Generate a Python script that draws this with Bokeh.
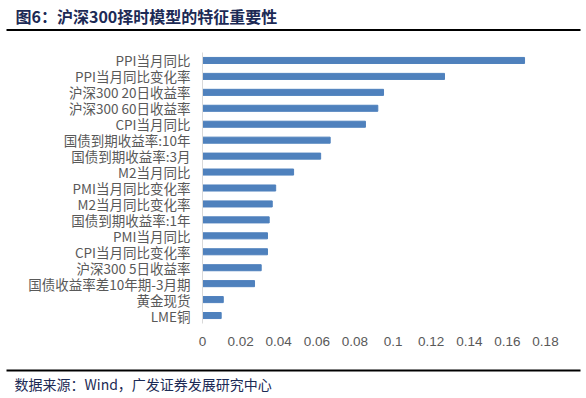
from bokeh.plotting import figure
from bokeh.models import Range1d
from bokeh.core.properties import value
from bokeh.embed import file_html
from bokeh.resources import INLINE

categories = ["PPI当月同比", "PPI当月同比变化率", "沪深300 20日收益率", "沪深300 60日收益率",
              "CPI当月同比", "国债到期收益率:10年", "国债到期收益率:3月", "M2当月同比",
              "PMI当月同比变化率", "M2当月同比变化率", "国债到期收益率:1年", "PMI当月同比",
              "CPI当月同比变化率", "沪深300 5日收益率", "国债收益率差10年期-3月期", "黄金现货", "LME铜"]
importance = [0.169, 0.127, 0.095, 0.092, 0.0855, 0.067, 0.062, 0.0478,
              0.0384, 0.0366, 0.035, 0.0341, 0.0341, 0.0308, 0.0273, 0.0109, 0.0098]
x_ticks = [0, 0.02, 0.04, 0.06, 0.08, 0.1, 0.12, 0.14, 0.16, 0.18]
x_tick_labels = [f"{t:g}" for t in x_ticks]

title_text = "图6：沪深300择时模型的特征重要性"
source_text = "数据来源：Wind，广发证券发展研究中心"

# ---- layout (canvas pixels) ----
W, H = 586, 398
FL, FR, FT, FB = 202, 545, 52, 323   # plotting area edges
X_MAX = 0.18
NAVY = "#1C2A55"
GREY = "#595959"

n = len(categories)
PX = (FR - FL) / X_MAX          # pixels per unit on x
PITCH = (FB - FT) / n           # pixels per category
ypos = [n - 1 - i for i in range(n)]   # first category at top

x_range = Range1d(-FL / PX, X_MAX + (W - FR) / PX)
y_range = Range1d(-0.5 - (H - FB) / PITCH, n - 0.5 + FT / PITCH)


def dx(px):  # canvas x -> data x
    return x_range.start + px / PX


def dy(py):  # canvas y (from top) -> data y
    return y_range.end - py / PITCH


p = figure(width=W, height=H, output_backend="svg", toolbar_location=None, title=None,
           x_range=x_range, y_range=y_range, x_axis_type=None, y_axis_type=None,
           min_border=0, min_border_left=0, min_border_right=0,
           min_border_top=0, min_border_bottom=0)
p.outline_line_color = None
p.grid.visible = False
p.background_fill_color = "white"
p.border_fill_color = "white"

# bars
p.hbar(y=ypos, right=importance, left=0, height=0.38, color="#4F81BD")

# value axis line (left) and category labels
p.segment(x0=[0], y0=[-0.5], x1=[0], y1=[n - 0.5], line_color="#D9D9D9", line_width=1)
p.text(x=[0] * n, y=ypos, text=categories, x_offset=-12,
       text_align="right", text_baseline="middle",
       text_font=value("Noto Sans CJK SC"), text_font_size="13.5px", text_color=GREY)

# x tick labels
p.text(x=x_ticks, y=[-0.5] * len(x_ticks), text=x_tick_labels, y_offset=18,
       text_align="center", text_baseline="middle",
       text_font=value("Liberation Sans"), text_font_size="13.5px", text_color=GREY)

# header: title and rule
p.text(x=[dx(15)], y=[dy(15)], text=[title_text], text_align="left", text_baseline="middle",
       text_font=value("Noto Sans CJK SC"), text_font_style="bold", text_font_size="16px",
       text_color=NAVY)
p.segment(x0=[dx(6)], y0=[dy(29.5)], x1=[dx(580)], y1=[dy(29.5)], line_color="black", line_width=2)

# footer: rule and source
p.segment(x0=[dx(6)], y0=[dy(370)], x1=[dx(580)], y1=[dy(370)], line_color="black", line_width=2)
p.text(x=[dx(14)], y=[dy(383)], text=[source_text], text_align="left", text_baseline="middle",
       text_font=value("Noto Sans CJK SC"), text_font_size="14px", text_color=NAVY)

open("out.html", "w").write(file_html(p, INLINE))
